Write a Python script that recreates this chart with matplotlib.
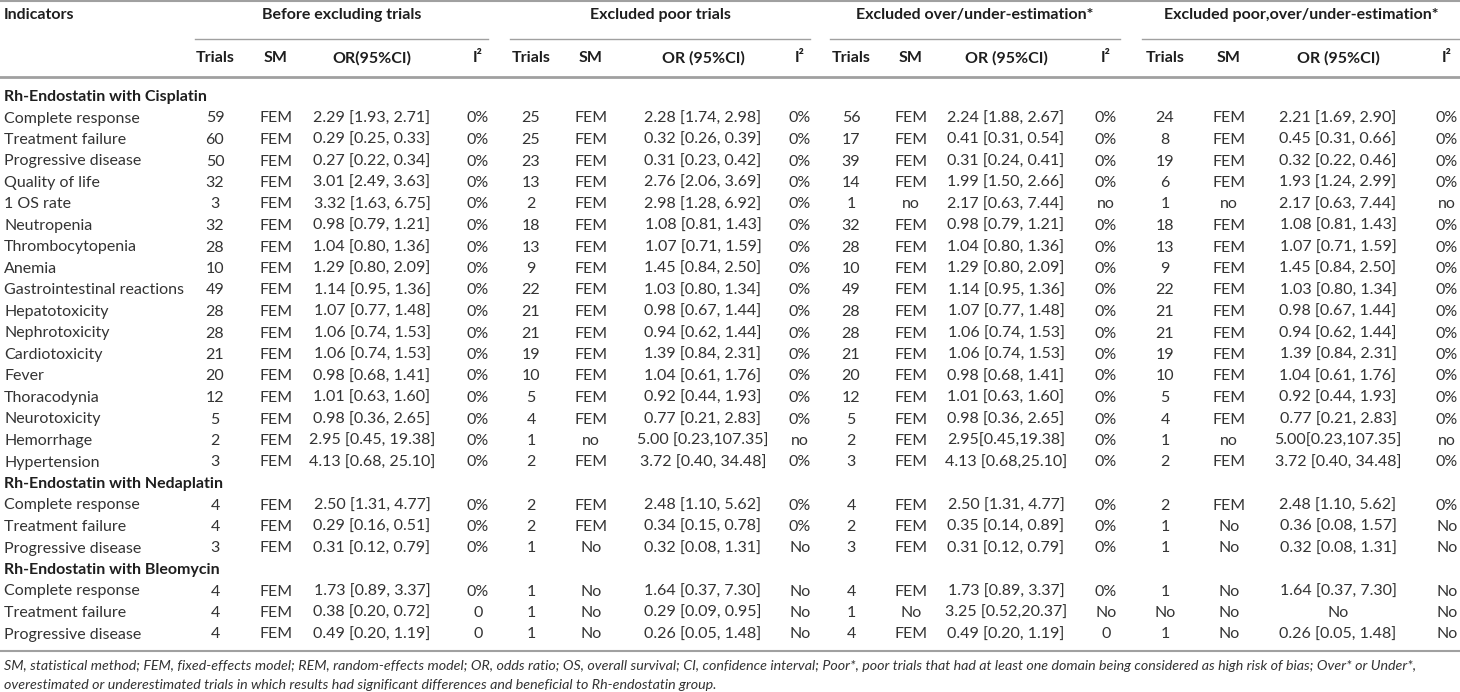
import matplotlib
matplotlib.use("Agg")
from matplotlib import pyplot as plt

plt.rcParams['font.family'] = ['Lato', 'DejaVu Sans']

groups = ["Before excluding trials", "Excluded poor trials",
          "Excluded over/under-estimation*", "Excluded poor,over/under-estimation*"]
sub_headers = ["Trials", "SM", "OR(95%CI)", "I\u00b2",
               "Trials", "SM", "OR (95%CI)", "I\u00b2",
               "Trials", "SM", "OR (95%CI)", "I\u00b2",
               "Trials", "SM", "OR (95%CI)", "I\u00b2"]

cis_title = "Rh-Endostatin with Cisplatin"
cis_rows = [
    ["Complete response", "59", "FEM", "2.29 [1.93, 2.71]", "0%", "25", "FEM", "2.28 [1.74, 2.98]", "0%", "56", "FEM", "2.24 [1.88, 2.67]", "0%", "24", "FEM", "2.21 [1.69, 2.90]", "0%"],
    ["Treatment failure", "60", "FEM", "0.29 [0.25, 0.33]", "0%", "25", "FEM", "0.32 [0.26, 0.39]", "0%", "17", "FEM", "0.41 [0.31, 0.54]", "0%", "8", "FEM", "0.45 [0.31, 0.66]", "0%"],
    ["Progressive disease", "50", "FEM", "0.27 [0.22, 0.34]", "0%", "23", "FEM", "0.31 [0.23, 0.42]", "0%", "39", "FEM", "0.31 [0.24, 0.41]", "0%", "19", "FEM", "0.32 [0.22, 0.46]", "0%"],
    ["Quality of life", "32", "FEM", "3.01 [2.49, 3.63]", "0%", "13", "FEM", "2.76 [2.06, 3.69]", "0%", "14", "FEM", "1.99 [1.50, 2.66]", "0%", "6", "FEM", "1.93 [1.24, 2.99]", "0%"],
    ["1 OS rate", "3", "FEM", "3.32 [1.63, 6.75]", "0%", "2", "FEM", "2.98 [1.28, 6.92]", "0%", "1", "no", "2.17 [0.63, 7.44]", "no", "1", "no", "2.17 [0.63, 7.44]", "no"],
    ["Neutropenia", "32", "FEM", "0.98 [0.79, 1.21]", "0%", "18", "FEM", "1.08 [0.81, 1.43]", "0%", "32", "FEM", "0.98 [0.79, 1.21]", "0%", "18", "FEM", "1.08 [0.81, 1.43]", "0%"],
    ["Thrombocytopenia", "28", "FEM", "1.04 [0.80, 1.36]", "0%", "13", "FEM", "1.07 [0.71, 1.59]", "0%", "28", "FEM", "1.04 [0.80, 1.36]", "0%", "13", "FEM", "1.07 [0.71, 1.59]", "0%"],
    ["Anemia", "10", "FEM", "1.29 [0.80, 2.09]", "0%", "9", "FEM", "1.45 [0.84, 2.50]", "0%", "10", "FEM", "1.29 [0.80, 2.09]", "0%", "9", "FEM", "1.45 [0.84, 2.50]", "0%"],
    ["Gastrointestinal reactions", "49", "FEM", "1.14 [0.95, 1.36]", "0%", "22", "FEM", "1.03 [0.80, 1.34]", "0%", "49", "FEM", "1.14 [0.95, 1.36]", "0%", "22", "FEM", "1.03 [0.80, 1.34]", "0%"],
    ["Hepatotoxicity", "28", "FEM", "1.07 [0.77, 1.48]", "0%", "21", "FEM", "0.98 [0.67, 1.44]", "0%", "28", "FEM", "1.07 [0.77, 1.48]", "0%", "21", "FEM", "0.98 [0.67, 1.44]", "0%"],
    ["Nephrotoxicity", "28", "FEM", "1.06 [0.74, 1.53]", "0%", "21", "FEM", "0.94 [0.62, 1.44]", "0%", "28", "FEM", "1.06 [0.74, 1.53]", "0%", "21", "FEM", "0.94 [0.62, 1.44]", "0%"],
    ["Cardiotoxicity", "21", "FEM", "1.06 [0.74, 1.53]", "0%", "19", "FEM", "1.39 [0.84, 2.31]", "0%", "21", "FEM", "1.06 [0.74, 1.53]", "0%", "19", "FEM", "1.39 [0.84, 2.31]", "0%"],
    ["Fever", "20", "FEM", "0.98 [0.68, 1.41]", "0%", "10", "FEM", "1.04 [0.61, 1.76]", "0%", "20", "FEM", "0.98 [0.68, 1.41]", "0%", "10", "FEM", "1.04 [0.61, 1.76]", "0%"],
    ["Thoracodynia", "12", "FEM", "1.01 [0.63, 1.60]", "0%", "5", "FEM", "0.92 [0.44, 1.93]", "0%", "12", "FEM", "1.01 [0.63, 1.60]", "0%", "5", "FEM", "0.92 [0.44, 1.93]", "0%"],
    ["Neurotoxicity", "5", "FEM", "0.98 [0.36, 2.65]", "0%", "4", "FEM", "0.77 [0.21, 2.83]", "0%", "5", "FEM", "0.98 [0.36, 2.65]", "0%", "4", "FEM", "0.77 [0.21, 2.83]", "0%"],
    ["Hemorrhage", "2", "FEM", "2.95 [0.45, 19.38]", "0%", "1", "no", "5.00 [0.23,107.35]", "no", "2", "FEM", "2.95[0.45,19.38]", "0%", "1", "no", "5.00[0.23,107.35]", "no"],
    ["Hypertension", "3", "FEM", "4.13 [0.68, 25.10]", "0%", "2", "FEM", "3.72 [0.40, 34.48]", "0%", "3", "FEM", "4.13 [0.68,25.10]", "0%", "2", "FEM", "3.72 [0.40, 34.48]", "0%"],
]

ned_title = "Rh-Endostatin with Nedaplatin"
ned_rows = [
    ["Complete response", "4", "FEM", "2.50 [1.31, 4.77]", "0%", "2", "FEM", "2.48 [1.10, 5.62]", "0%", "4", "FEM", "2.50 [1.31, 4.77]", "0%", "2", "FEM", "2.48 [1.10, 5.62]", "0%"],
    ["Treatment failure", "4", "FEM", "0.29 [0.16, 0.51]", "0%", "2", "FEM", "0.34 [0.15, 0.78]", "0%", "2", "FEM", "0.35 [0.14, 0.89]", "0%", "1", "No", "0.36 [0.08, 1.57]", "No"],
    ["Progressive disease", "3", "FEM", "0.31 [0.12, 0.79]", "0%", "1", "No", "0.32 [0.08, 1.31]", "No", "3", "FEM", "0.31 [0.12, 0.79]", "0%", "1", "No", "0.32 [0.08, 1.31]", "No"],
]

bleo_title = "Rh-Endostatin with Bleomycin"
bleo_rows = [
    ["Complete response", "4", "FEM", "1.73 [0.89, 3.37]", "0%", "1", "No", "1.64 [0.37, 7.30]", "No", "4", "FEM", "1.73 [0.89, 3.37]", "0%", "1", "No", "1.64 [0.37, 7.30]", "No"],
    ["Treatment failure", "4", "FEM", "0.38 [0.20, 0.72]", "0", "1", "No", "0.29 [0.09, 0.95]", "No", "1", "No", "3.25 [0.52,20.37]", "No", "No", "No", "No", "No"],
    ["Progressive disease", "4", "FEM", "0.49 [0.20, 1.19]", "0", "1", "No", "0.26 [0.05, 1.48]", "No", "4", "FEM", "0.49 [0.20, 1.19]", "0", "1", "No", "0.26 [0.05, 1.48]", "No"],
]

footnote = ["SM, statistical method; FEM, fixed-effects model; REM, random-effects model; OR, odds ratio; "
            "OS, overall survival; CI, confidence interval; Poor*, poor trials that had at least one domain "
            "being considered as high risk of bias; Over* or Under*,",
            "overestimated or underestimated trials in which results had significant differences and "
            "beneficial to Rh-endostatin group."]

# layout (pixel coords)
col_x = [215, 276, 372, 478,
         531, 591, 703, 800,
         851, 911, 1006, 1106,
         1165, 1229, 1338, 1447]
group_span = [(195, 488), (510, 810), (830, 1120), (1142, 1460)]
fs = 11.5
txt = '#333333'
hdr = '#1e1e1e'
line_c = '#a0a0a0'

fig = plt.figure(figsize=(14.6, 6.92), dpi=100)
ax = fig.add_axes([0, 0, 1, 1])
ax.set_xlim(0, 1460)
ax.set_ylim(692, 0)
ax.axis('off')

ax.plot([0, 1460], [1, 1], color=line_c, lw=1.5)
ax.text(4, 15, "Indicators", fontsize=fs, weight='bold', color=hdr, va='center')
for g, (x0, x1) in zip(groups, group_span):
    ax.text((x0 + x1) / 2, 15, g, fontsize=fs, weight='bold', color=hdr, ha='center', va='center')
    ax.plot([x0, x1], [39, 39], color=line_c, lw=1)
for h, x in zip(sub_headers, col_x):
    ax.text(x, 58, h, fontsize=fs, weight='bold', color=hdr, ha='center', va='center')
ax.plot([0, 1460], [77, 77], color=line_c, lw=2)

y = 97
step = 21.5
for title, rows in [(cis_title, cis_rows), (ned_title, ned_rows), (bleo_title, bleo_rows)]:
    ax.text(4, y, title, fontsize=fs, weight='bold', color=hdr, va='center')
    y += step
    for r in rows:
        ax.text(4, y, r[0], fontsize=fs, color=txt, va='center')
        for v, x in zip(r[1:], col_x):
            ax.text(x, y, v, fontsize=fs, color=txt, ha='center', va='center')
        y += step

ax.plot([0, 1460], [651, 651], color=line_c, lw=1.5)
ax.text(4, 666, footnote[0], fontsize=10.3, style='italic', color=txt, va='center')
ax.text(4, 685, footnote[1], fontsize=10.3, style='italic', color=txt, va='center')

fig.savefig("out.png", dpi=100)
